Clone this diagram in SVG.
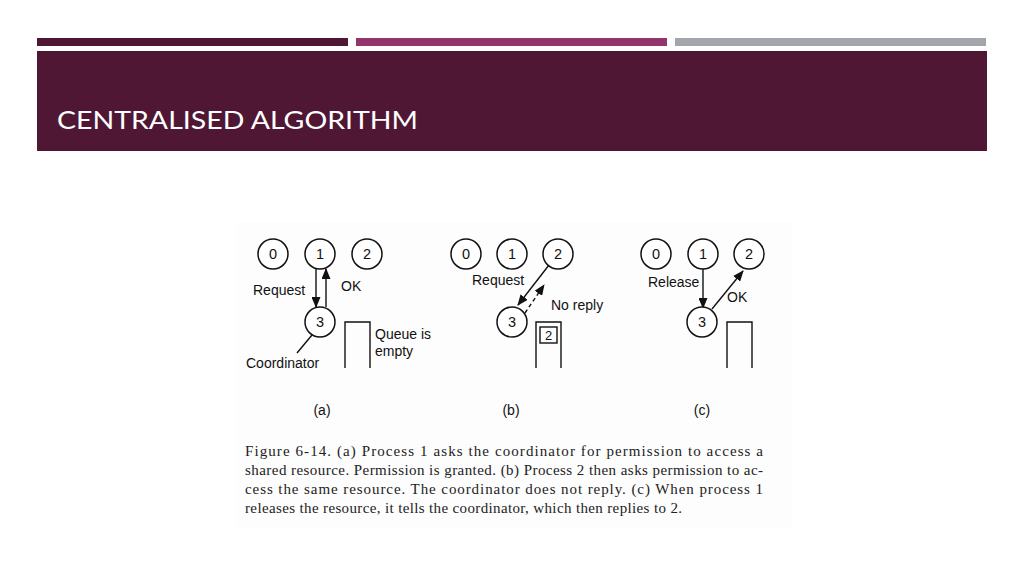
<svg xmlns="http://www.w3.org/2000/svg" width="1024" height="576" viewBox="0 0 1024 576">
<defs>
<style>
.node circle{fill:#fff;stroke:#111;stroke-width:1.5}
.nt{font-family:"Liberation Sans",Arial,sans-serif;font-size:14.5px;fill:#111;text-anchor:middle;dominant-baseline:central}
.lbl{font-family:"Liberation Sans",Arial,sans-serif;font-size:14px;fill:#111}
.cap{font-family:"Liberation Serif","Times New Roman",serif;font-size:15px;fill:#222}
.ln{stroke:#111;stroke-width:1.4;fill:none}
.q{stroke:#111;stroke-width:1.4;fill:none}
</style>
<marker id="ah" markerWidth="11" markerHeight="9" refX="10" refY="4.5" orient="auto" markerUnits="userSpaceOnUse">
<path d="M0,0 L11,4.5 L0,9 Z" fill="#111"/>
</marker>
</defs>
<rect width="1024" height="576" fill="#fff"/>
<rect x="37" y="38" width="311" height="8" fill="#4f1734"/>
<rect x="356" y="38" width="311" height="8" fill="#93346b"/>
<rect x="675" y="38" width="311" height="8" fill="#a2a5aa"/>
<rect x="37" y="51" width="950" height="100" fill="#4f1734"/>
<text x="57" y="129" font-family="Lato,'Open Sans',sans-serif" font-size="25" fill="#fff" textLength="361" lengthAdjust="spacingAndGlyphs">CENTRALISED ALGORITHM</text>
<rect x="236" y="222" width="556" height="306" fill="#fdfdfd"/>

<g id="connectors">
<line class="ln" x1="316" y1="269" x2="316" y2="307" marker-end="url(#ah)"/>
<line class="ln" x1="326" y1="307" x2="326" y2="269" marker-end="url(#ah)"/>
<line class="ln" x1="312" y1="335" x2="297" y2="353"/>
<line class="ln" x1="549" y1="265" x2="518" y2="305" marker-end="url(#ah)"/>
<line class="ln" x1="525" y1="313" x2="544" y2="285" stroke-dasharray="4,3" marker-end="url(#ah)"/>
<line class="ln" x1="703" y1="268" x2="703" y2="308" marker-end="url(#ah)"/>
<line class="ln" x1="712" y1="309" x2="743" y2="271" marker-end="url(#ah)"/>
</g>

<g id="a-p0" class="node"><circle cx="273" cy="254" r="15"/><text class="nt" x="273" y="254">0</text></g>
<g id="a-p1" class="node"><circle cx="320" cy="254" r="15"/><text class="nt" x="320" y="254">1</text></g>
<g id="a-p2" class="node"><circle cx="367" cy="254" r="15"/><text class="nt" x="367" y="254">2</text></g>
<g id="a-p3" class="node"><circle cx="320" cy="322" r="15"/><text class="nt" x="320" y="322">3</text></g>
<g id="a-queue"><path class="q" d="M345,368 V322 H370 V368"/></g>
<g id="a-labels">
<text class="lbl" x="253" y="295">Request</text>
<text class="lbl" x="341" y="291">OK</text>
<text class="lbl" x="375" y="339">Queue is</text>
<text class="lbl" x="375" y="356">empty</text>
<text class="lbl" x="246" y="368">Coordinator</text>
<text class="lbl" x="322" y="415" text-anchor="middle">(a)</text>
</g>

<g id="b-p0" class="node"><circle cx="466" cy="254" r="15"/><text class="nt" x="466" y="254">0</text></g>
<g id="b-p1" class="node"><circle cx="512" cy="254" r="15"/><text class="nt" x="512" y="254">1</text></g>
<g id="b-p2" class="node"><circle cx="558" cy="254" r="15"/><text class="nt" x="558" y="254">2</text></g>
<g id="b-p3" class="node"><circle cx="512" cy="322" r="15"/><text class="nt" x="512" y="322">3</text></g>
<g id="b-queue"><path class="q" d="M536,368 V322 H561 V368"/><rect class="q" x="540" y="327" width="17" height="16"/><text class="nt" x="548.5" y="335" style="font-size:13px">2</text></g>
<g id="b-labels">
<text class="lbl" x="472" y="285">Request</text>
<text class="lbl" x="551" y="310">No reply</text>
<text class="lbl" x="511" y="415" text-anchor="middle">(b)</text>
</g>

<g id="c-p0" class="node"><circle cx="656" cy="254" r="15"/><text class="nt" x="656" y="254">0</text></g>
<g id="c-p1" class="node"><circle cx="703" cy="254" r="15"/><text class="nt" x="703" y="254">1</text></g>
<g id="c-p2" class="node"><circle cx="749" cy="254" r="15"/><text class="nt" x="749" y="254">2</text></g>
<g id="c-p3" class="node"><circle cx="702" cy="322" r="15"/><text class="nt" x="702" y="322">3</text></g>
<g id="c-queue"><path class="q" d="M727,368 V322 H752 V368"/></g>
<g id="c-labels">
<text class="lbl" x="648" y="287">Release</text>
<text class="lbl" x="727" y="302">OK</text>
<text class="lbl" x="702" y="415" text-anchor="middle">(c)</text>
</g>

<g id="caption">
<text class="cap" x="245" y="456" textLength="518" lengthAdjust="spacing">Figure 6-14. (a) Process 1 asks the coordinator for permission to access a</text>
<text class="cap" x="245" y="475" textLength="518" lengthAdjust="spacing">shared resource. Permission is granted. (b) Process 2 then asks permission to ac-</text>
<text class="cap" x="245" y="494" textLength="518" lengthAdjust="spacing">cess the same resource. The coordinator does not reply. (c) When process 1</text>
<text class="cap" x="245" y="513" textLength="437" lengthAdjust="spacing">releases the resource, it tells the coordinator, which then replies to 2.</text>
</g>
</svg>
